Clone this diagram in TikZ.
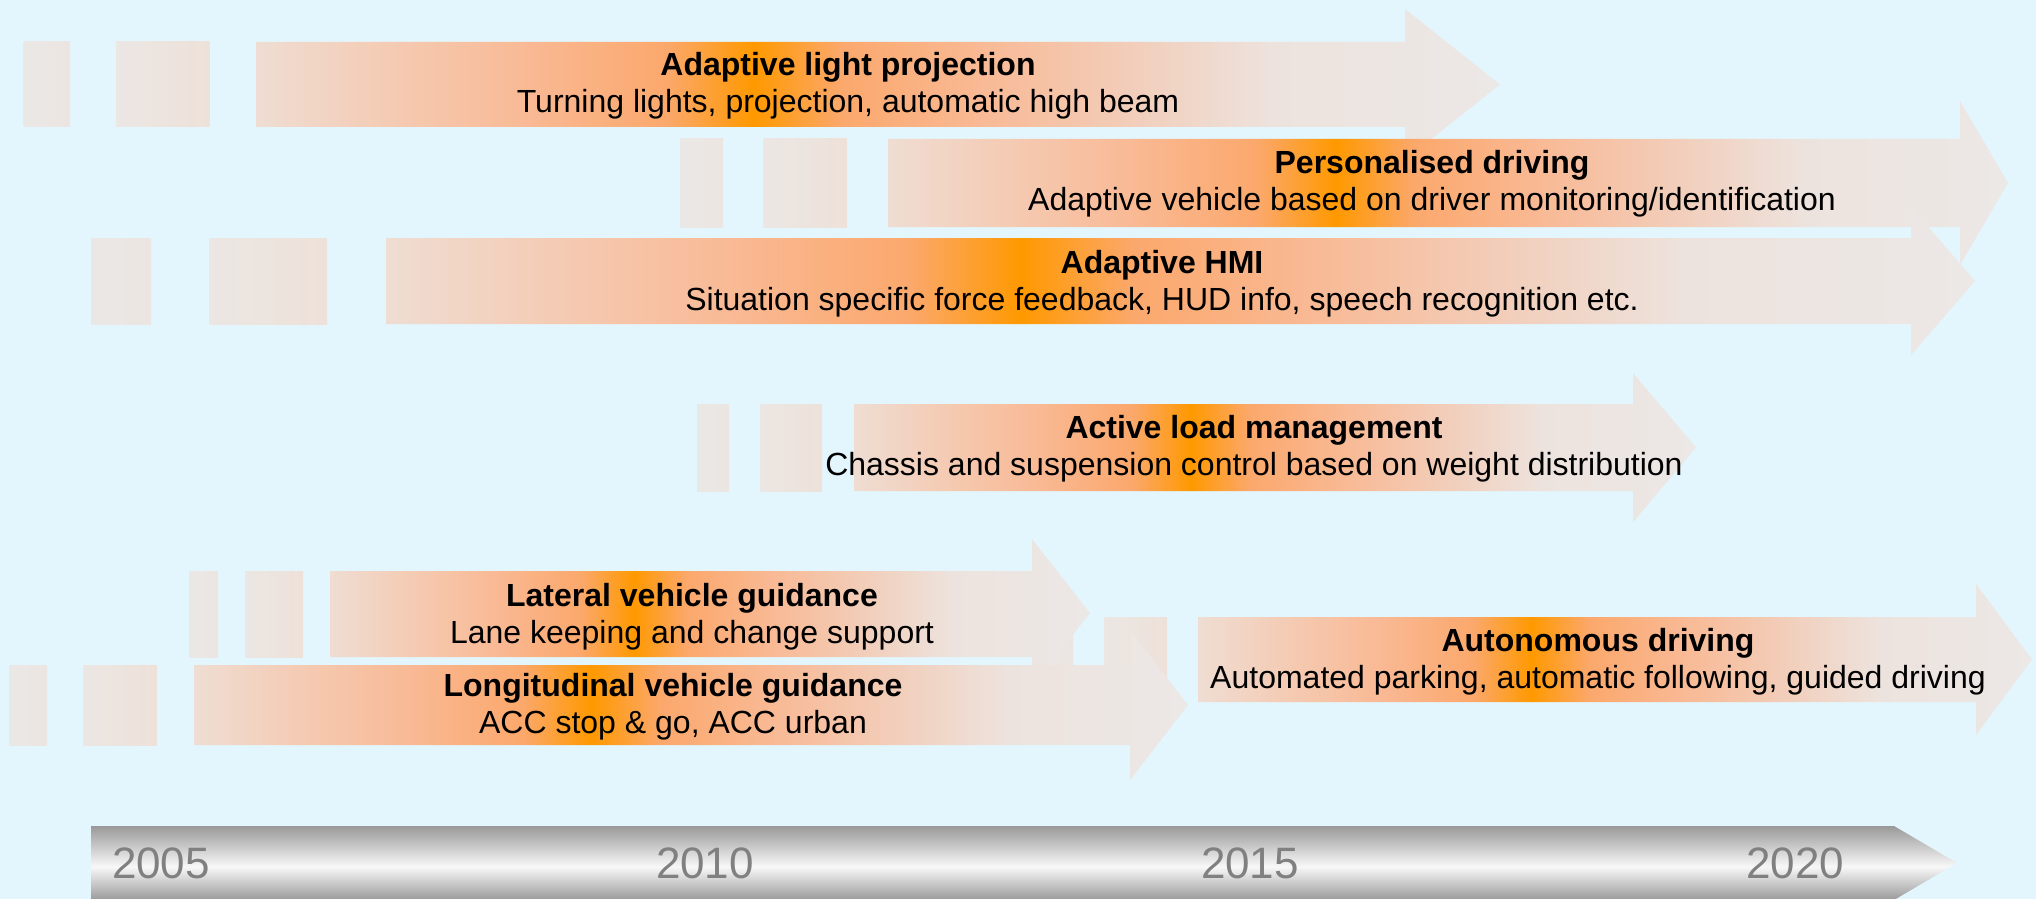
\documentclass[tikz,border=0pt]{standalone}
\usepackage{fontspec}
\setmainfont{Liberation Sans}

\definecolor{skyback}{HTML}{E3F6FD}
\definecolor{rmedge}{HTML}{EFDDD3}
\definecolor{rmpale}{HTML}{F5C9B0}
\definecolor{rmsalmon}{HTML}{F9B994}
\definecolor{rmwarm}{HTML}{FBA86C}
\definecolor{rmpeak}{HTML}{FF9900}
\definecolor{rmfade}{HTML}{F2CDB9}
\definecolor{rmmist}{HTML}{EDE3DE}
\definecolor{rmgrey}{HTML}{ECE8E6}
\definecolor{stubgrey}{HTML}{EAE8E6}
\definecolor{stubwarm}{HTML}{EEE1D9}
\definecolor{metaldark}{HTML}{999999}
\definecolor{metallight}{HTML}{F8F8F8}
\definecolor{yeargrey}{HTML}{808080}

% orange glow along each roadmap arrow, grey towards the head
\pgfdeclarehorizontalshading{roadmap}{100bp}{color(0bp)=(rmedge); color(25bp)=(rmedge); color(31bp)=(rmpale); color(36bp)=(rmsalmon); color(41.5bp)=(rmwarm); color(45bp)=(rmpeak); color(48.5bp)=(rmwarm); color(54bp)=(rmsalmon); color(60bp)=(rmfade); color(66bp)=(rmmist); color(75bp)=(rmgrey); color(100bp)=(rmgrey)}
% brushed metal time axis
\pgfdeclareverticalshading{metal}{100bp}{color(0bp)=(metaldark); color(25bp)=(metaldark); color(47.5bp)=(metallight); color(75bp)=(metaldark); color(100bp)=(metaldark)}

\begin{document}
\begin{tikzpicture}[x=0.5pt, y=-0.5pt, every node/.style={font=\fontsize{16}{18.5}\selectfont, align=center, inner sep=0pt},
    roadbar/.style={shading=roadmap},
    stubthin/.style={left color=stubgrey, right color=stubgrey!60!stubwarm},
    stubwide/.style={left color=stubgrey!80!stubwarm, right color=stubwarm},
    year/.style={font=\fontsize{22}{26}\selectfont, text=yeargrey}]
    \fill[skyback] (0,0) rectangle (2036,899);
    \useasboundingbox (0,0) rectangle (2036,899);

    % time axis
    \shade[shading=metal] (91,826) -- (1894,826) -- (1957,863) -- (1894,900) -- (91,900) -- cycle;
    \node[year] (y2005) at (161,863) {2005};
    \node[year] (y2010) at (705,863) {2010};
    \node[year] (y2015) at (1250,863) {2015};
    \node[year] (y2020) at (1795,863) {2020};

    % adaptive light projection
    \shade[stubthin] (23.5,42) rectangle (70,127);
    \shade[stubwide] (116.5,42) rectangle (209.5,127);
    \shade[roadbar] (256,42) -- (1405,42) -- (1405,9) -- (1500,84.5) -- (1405,160) -- (1405,127) -- (256,127) -- cycle;
    \node (light) at (848,85.5) {\textbf{Adaptive light projection}\\Turning lights, projection, automatic high beam};

    % personalised driving
    \shade[stubthin] (680,139) rectangle (723,227);
    \shade[stubwide] (763,139) rectangle (847,227);
    \shade[roadbar] (888,139) -- (1960,139) -- (1960,101) -- (2008,183) -- (1960,265) -- (1960,227) -- (888,227) -- cycle;
    \node (personal) at (1432,184) {\textbf{Personalised driving}\\Adaptive vehicle based on driver monitoring/identification};

    % adaptive HMI
    \shade[stubthin] (91,238) rectangle (151,324);
    \shade[stubwide] (209,238) rectangle (327,324);
    \shade[roadbar] (386,238) -- (1911,238) -- (1911,207) -- (1975,281) -- (1911,355) -- (1911,324) -- (386,324) -- cycle;
    \node (hmi) at (1162,284) {\textbf{Adaptive HMI}\\Situation specific force feedback, HUD info, speech recognition etc.};

    % active load management
    \shade[stubthin] (697,404) rectangle (729,491);
    \shade[stubwide] (760,404) rectangle (822,491);
    \shade[roadbar] (854,404) -- (1633,404) -- (1633,373) -- (1696,447.5) -- (1633,522) -- (1633,491) -- (854,491) -- cycle;
    \node (load) at (1254,448.5) {\textbf{Active load management}\\Chassis and suspension control based on weight distribution};

    % autonomous driving (its stubs sit behind the guidance arrows)
    \shade[stubthin] (1040,617) rectangle (1073,702);
    \shade[stubwide] (1104,617) rectangle (1167,702);
    \shade[roadbar] (1198,617) -- (1976,617) -- (1976,584) -- (2032,659.5) -- (1976,735) -- (1976,702) -- (1198,702) -- cycle;
    \node (auto) at (1598,661.5) {\textbf{Autonomous driving}\\Automated parking, automatic following, guided driving};

    % lateral vehicle guidance
    \shade[stubthin] (189,571) rectangle (218,657);
    \shade[stubwide] (245,571) rectangle (303,657);
    \shade[roadbar] (330,571) -- (1032,571) -- (1032,539) -- (1090,613) -- (1032,687) -- (1032,657) -- (330,657) -- cycle;
    \node (lateral) at (692,616.5) {\textbf{Lateral vehicle guidance}\\Lane keeping and change support};

    % longitudinal vehicle guidance
    \shade[stubthin] (9,665) rectangle (47,745);
    \shade[stubwide] (83,665) rectangle (157,745);
    \shade[roadbar] (194,665) -- (1130,665) -- (1130,630) -- (1188,705) -- (1130,780) -- (1130,745) -- (194,745) -- cycle;
    \node (longi) at (673,707) {\textbf{Longitudinal vehicle guidance}\\ACC stop \& go, ACC urban};
\end{tikzpicture}
\end{document}
